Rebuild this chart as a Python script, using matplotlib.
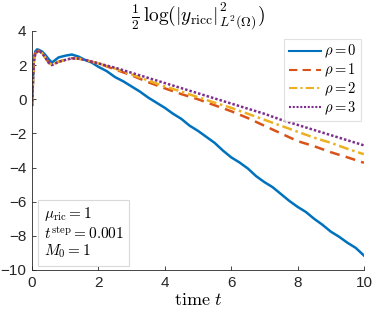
import numpy as np
import matplotlib.pyplot as plt

plt.rcParams['mathtext.fontset'] = 'cm'

# rho = 0
t0 = [0, 0.05, 0.1, 0.15, 0.2, 0.3, 0.4, 0.5, 0.6, 0.7, 0.8, 1.0, 1.2, 1.4, 1.6, 1.8, 2.0,
      2.25, 2.5, 2.75, 3.0, 3.25, 3.5, 3.75, 4.0, 4.25, 4.5, 4.75, 5.0, 5.25, 5.5, 5.75,
      6.0, 6.25, 6.5, 6.75, 7.0, 7.25, 7.5, 7.75, 8.0, 8.25, 8.5, 8.75, 9.0, 9.25, 9.5,
      9.75, 10.0]
y0 = [-0.3, 2.3, 2.8, 2.92, 2.9, 2.8, 2.6, 2.35, 2.15, 2.3, 2.45, 2.55, 2.62, 2.5, 2.3,
      2.15, 1.9, 1.65, 1.3, 1.05, 0.75, 0.45, 0.1, -0.2, -0.5, -0.85, -1.15, -1.55, -1.85,
      -2.2, -2.55, -3.0, -3.4, -3.7, -4.05, -4.5, -4.85, -5.15, -5.55, -5.95, -6.3, -6.6,
      -7.0, -7.35, -7.75, -8.05, -8.4, -8.7, -9.15]

# rho = 1, 2, 3
t1 = [0, 0.05, 0.1, 0.2, 0.3, 0.4, 0.5, 0.6, 0.7, 0.8, 1.0, 1.2, 1.4, 1.6, 1.8, 2.0,
      2.5, 3.0, 3.5, 4.0, 4.5, 5.0, 5.5, 6.0, 6.5, 7.0, 7.5, 8.0, 8.5, 9.0, 9.5, 10.0]
early = [-0.4, 2.1, 2.7, 2.85, 2.7, 2.45, 2.15, 2.0, 2.1, 2.2, 2.3, 2.4, 2.38, 2.3, 2.2, 2.1]
y1 = early + [1.75, 1.4, 1.0, 0.64, 0.3, 0.0, -0.35, -0.7, -1.1, -1.55, -2.0, -2.45,
              -2.75, -3.1, -3.4, -3.72]
y2 = early + [1.8, 1.45, 1.1, 0.75, 0.45, 0.12, -0.2, -0.5, -0.85, -1.2, -1.55, -1.9,
              -2.25, -2.55, -2.9, -3.22]
y3 = early + [1.85, 1.55, 1.25, 0.95, 0.65, 0.35, 0.05, -0.25, -0.55, -0.85, -1.2, -1.5,
              -1.8, -2.1, -2.4, -2.7]

fig = plt.figure(figsize=(3.74, 3.16), dpi=100)
ax = fig.add_axes([0.0856, 0.1456, 0.8874, 0.7564])

ax.plot(t0, y0, color=(0, 0.447, 0.741), lw=1.8, label=r'$\rho = 0$')
ax.plot(t1, y1, color=(0.85, 0.325, 0.098), lw=1.8, ls=(0, (4, 2.5)), label=r'$\rho = 1$')
ax.plot(t1, y2, color=(0.929, 0.694, 0.125), lw=1.8, ls=(0, (4, 1.5, 1, 1.5)), label=r'$\rho = 2$')
ax.plot(t1, y3, color=(0.494, 0.184, 0.556), lw=1.8, ls=(0, (1, 0.8)), label=r'$\rho = 3$')

ax.set_xlim(0, 10)
ax.set_ylim(-10, 4)
ax.set_xticks(np.arange(0, 11, 2))
ax.set_yticks(np.arange(-10, 5, 2))
for s in ['top', 'right']:
    ax.spines[s].set_visible(False)
for s in ['left', 'bottom']:
    ax.spines[s].set_color('0.15')
    ax.spines[s].set_linewidth(0.6)
ax.tick_params(direction='in', length=3, width=0.6, color='0.15', labelsize=11,
               labelcolor='0.15', pad=4)
for lab in ax.get_xticklabels() + ax.get_yticklabels():
    lab.set_family('Liberation Sans')

ax.set_title(r'$\frac{1}{2}\,\log(|y_{\rm ricc}|^2_{L^2(\Omega)})$', fontsize=14, pad=5)
ax.set_xlabel(r'$\mathrm{time}\ t$', fontsize=13, labelpad=1)

leg = ax.legend(loc='upper right', fontsize=10.5, frameon=True, fancybox=False,
                handlelength=2.2, handletextpad=0.2, borderpad=0.3, labelspacing=0.1,
                borderaxespad=0.2, bbox_to_anchor=(1.0, 0.98))
leg.get_frame().set_edgecolor('0.85')
leg.get_frame().set_linewidth(0.8)
for line in leg.get_lines():
    line.set_linewidth(1.5)

ax.text(0.035, 0.04, '$\\mu_{\\rm ric} = 1$\n$t^{\\rm step} = 0.001$\n$M_0 = 1$',
        transform=ax.transAxes, fontsize=11, va='bottom', ha='left', linespacing=1.1,
        bbox=dict(boxstyle='square,pad=0.35', fc='white', ec='0.85', lw=0.8))

fig.savefig('out.png', dpi=100)
